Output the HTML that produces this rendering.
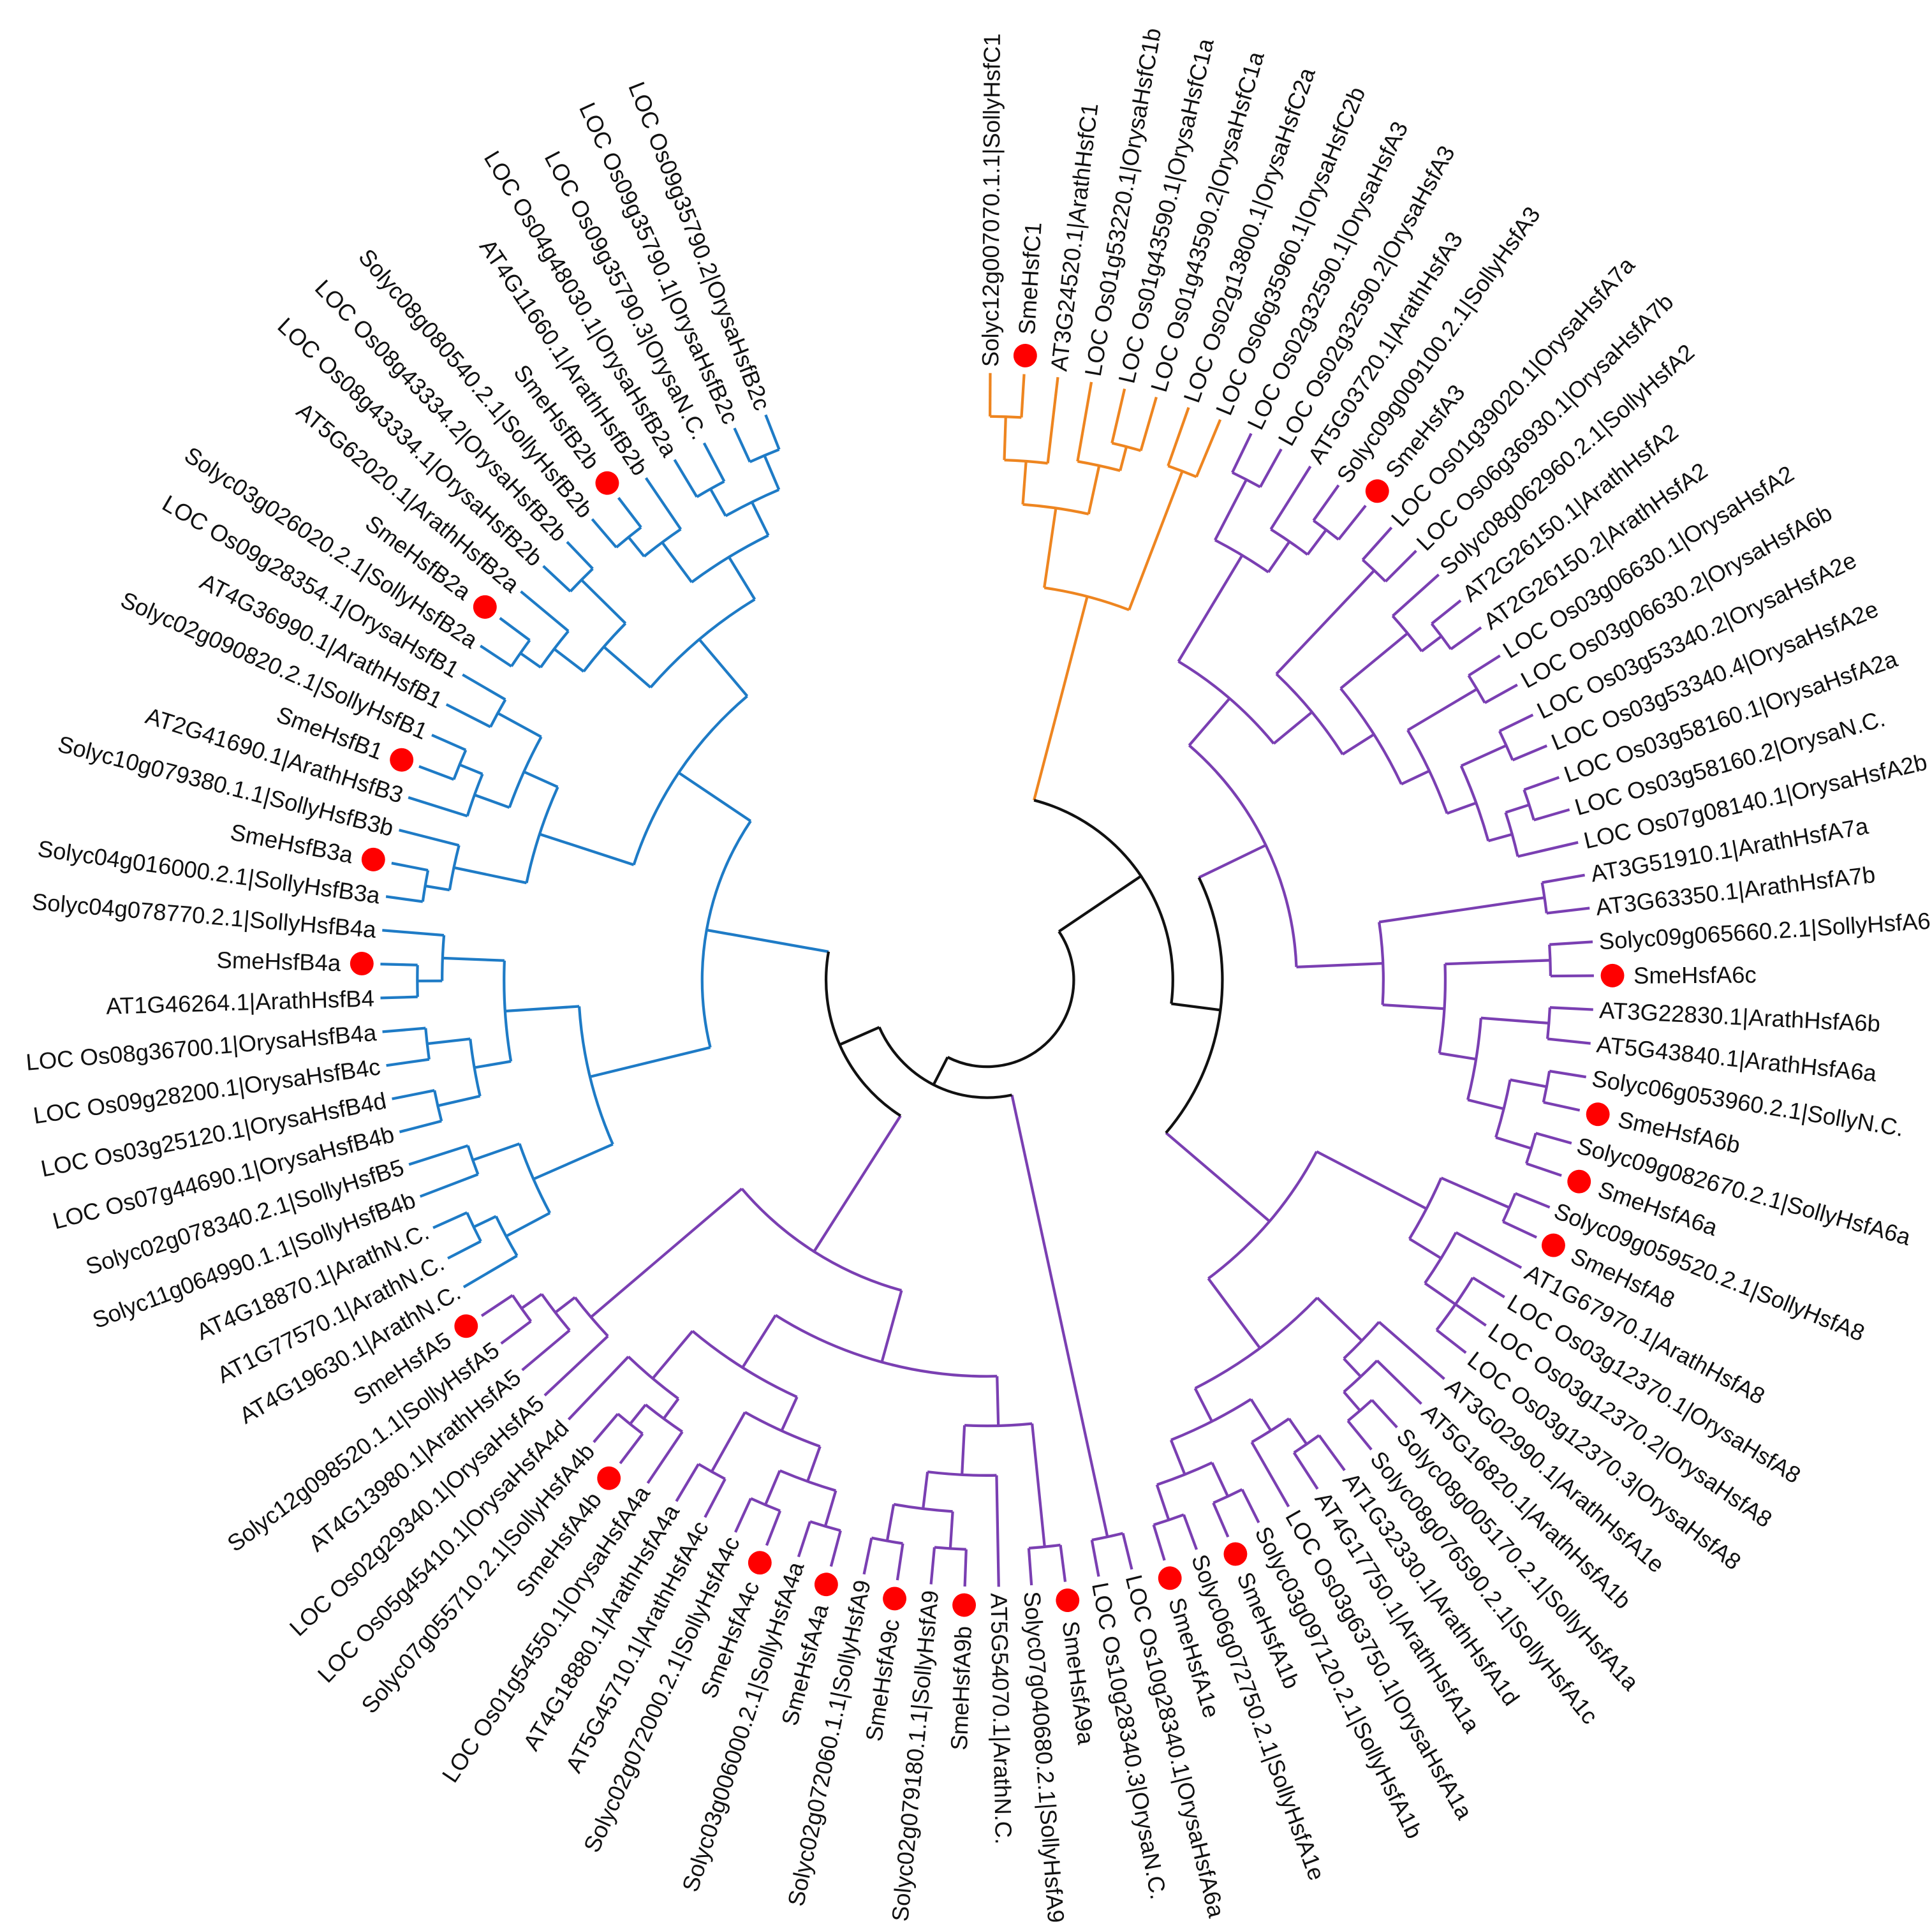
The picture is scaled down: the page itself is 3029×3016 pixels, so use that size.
<!DOCTYPE html>
<html><head><meta charset="utf-8"><style>
html,body{margin:0;padding:0;background:#fff}
svg{display:block}
line,.a{fill:none;stroke-width:2.2}
.o line,.o .a{stroke:#EE8520}
.p line,.p .a{stroke:#7A3FB2}
.b line,.b .a{stroke:#1E7BC6}
.k line,.k .a{stroke:#111}
text{font-family:"Liberation Sans",Arial,sans-serif;font-size:18.8px;fill:#111}
.l{text-anchor:end}
.d{fill:#f00;stroke:none}
</style></head><body>
<svg width="3029" height="3016" viewBox="0 0 1560 1553" xmlns="http://www.w3.org/2000/svg">
<rect width="1560" height="1553" fill="#fff"/>
<g transform="translate(797,791)">
<g class="o">
<line x1="455" x2="490" transform="rotate(-89.7)"/><line x1="455" x2="490" transform="rotate(-86.5)"/><circle class="a" r="455" transform="rotate(-89.7)" stroke-dasharray="25.4 9999"/>
<line x1="420" x2="455" transform="rotate(-88.1)"/><line x1="420" x2="490" transform="rotate(-83.3)"/><circle class="a" r="420" transform="rotate(-88.1)" stroke-dasharray="35.2 9999"/>
<line x1="445" x2="490" transform="rotate(-76.9)"/><line x1="445" x2="490" transform="rotate(-73.8)"/><circle class="a" r="445" transform="rotate(-76.9)" stroke-dasharray="24.1 9999"/>
<line x1="425" x2="490" transform="rotate(-80.1)"/><line x1="425" x2="445" transform="rotate(-75.35)"/><circle class="a" r="425" transform="rotate(-80.1)" stroke-dasharray="35.2 9999"/>
<line x1="385" x2="420" transform="rotate(-85.7)"/><line x1="385" x2="425" transform="rotate(-77.7)"/><circle class="a" r="385" transform="rotate(-85.7)" stroke-dasharray="53.8 9999"/>
<line x1="440" x2="490" transform="rotate(-70.6)"/><line x1="440" x2="490" transform="rotate(-67.4)"/><circle class="a" r="440" transform="rotate(-70.6)" stroke-dasharray="24.6 9999"/>
<line x1="320" x2="385" transform="rotate(-81.7)"/><line x1="320" x2="440" transform="rotate(-69.0)"/><circle class="a" r="320" transform="rotate(-81.7)" stroke-dasharray="70.9 9999"/>
<line x1="150" x2="320" transform="rotate(-75.35)"/>
</g>
<g class="p">
<line x1="455" x2="490" transform="rotate(-64.2)"/><line x1="455" x2="490" transform="rotate(-61.0)"/><circle class="a" r="455" transform="rotate(-64.2)" stroke-dasharray="25.4 9999"/>
<line x1="455" x2="490" transform="rotate(-54.6)"/><line x1="455" x2="490" transform="rotate(-51.4)"/><circle class="a" r="455" transform="rotate(-54.6)" stroke-dasharray="25.4 9999"/>
<line x1="430" x2="490" transform="rotate(-57.8)"/><line x1="430" x2="455" transform="rotate(-53.0)"/><circle class="a" r="430" transform="rotate(-57.8)" stroke-dasharray="36 9999"/>
<line x1="400" x2="455" transform="rotate(-62.6)"/><line x1="400" x2="430" transform="rotate(-55.4)"/><circle class="a" r="400" transform="rotate(-62.6)" stroke-dasharray="50.3 9999"/>
<line x1="455" x2="490" transform="rotate(-48.2)"/><line x1="455" x2="490" transform="rotate(-45.0)"/><circle class="a" r="455" transform="rotate(-48.2)" stroke-dasharray="25.4 9999"/>
<line x1="460" x2="490" transform="rotate(-38.7)"/><line x1="460" x2="490" transform="rotate(-35.5)"/><circle class="a" r="460" transform="rotate(-38.7)" stroke-dasharray="25.7 9999"/>
<line x1="440" x2="490" transform="rotate(-41.9)"/><line x1="440" x2="460" transform="rotate(-37.1)"/><circle class="a" r="440" transform="rotate(-41.9)" stroke-dasharray="36.9 9999"/>
<line x1="460" x2="490" transform="rotate(-32.3)"/><line x1="460" x2="490" transform="rotate(-29.1)"/><circle class="a" r="460" transform="rotate(-32.3)" stroke-dasharray="25.7 9999"/>
<line x1="460" x2="490" transform="rotate(-25.9)"/><line x1="460" x2="490" transform="rotate(-22.7)"/><circle class="a" r="460" transform="rotate(-25.9)" stroke-dasharray="25.7 9999"/>
<line x1="460" x2="490" transform="rotate(-19.5)"/><line x1="460" x2="490" transform="rotate(-16.3)"/><circle class="a" r="460" transform="rotate(-19.5)" stroke-dasharray="25.7 9999"/>
<line x1="440" x2="460" transform="rotate(-17.9)"/><line x1="440" x2="490" transform="rotate(-13.1)"/><circle class="a" r="440" transform="rotate(-17.9)" stroke-dasharray="36.9 9999"/>
<line x1="420" x2="460" transform="rotate(-24.3)"/><line x1="420" x2="440" transform="rotate(-15.5)"/><circle class="a" r="420" transform="rotate(-24.3)" stroke-dasharray="64.5 9999"/>
<line x1="395" x2="460" transform="rotate(-30.7)"/><line x1="395" x2="420" transform="rotate(-19.9)"/><circle class="a" r="395" transform="rotate(-30.7)" stroke-dasharray="74.5 9999"/>
<line x1="370" x2="440" transform="rotate(-39.5)"/><line x1="370" x2="395" transform="rotate(-25.3)"/><circle class="a" r="370" transform="rotate(-39.5)" stroke-dasharray="91.7 9999"/>
<line x1="340" x2="455" transform="rotate(-46.6)"/><line x1="340" x2="370" transform="rotate(-32.4)"/><circle class="a" r="340" transform="rotate(-46.6)" stroke-dasharray="84.3 9999"/>
<line x1="300" x2="400" transform="rotate(-59.0)"/><line x1="300" x2="340" transform="rotate(-39.5)"/><circle class="a" r="300" transform="rotate(-59.0)" stroke-dasharray="102.1 9999"/>
<line x1="455" x2="490" transform="rotate(-9.95)"/><line x1="455" x2="490" transform="rotate(-6.8)"/><circle class="a" r="455" transform="rotate(-9.95)" stroke-dasharray="25 9999"/>
<line x1="455" x2="490" transform="rotate(-3.6)"/><line x1="455" x2="490" transform="rotate(-0.4)"/><circle class="a" r="455" transform="rotate(-3.6)" stroke-dasharray="25.4 9999"/>
<line x1="455" x2="490" transform="rotate(2.8)"/><line x1="455" x2="490" transform="rotate(6.0)"/><circle class="a" r="455" transform="rotate(2.8)" stroke-dasharray="25.4 9999"/>
<line x1="460" x2="490" transform="rotate(9.2)"/><line x1="460" x2="490" transform="rotate(12.4)"/><circle class="a" r="460" transform="rotate(9.2)" stroke-dasharray="25.7 9999"/>
<line x1="460" x2="490" transform="rotate(15.6)"/><line x1="460" x2="490" transform="rotate(18.8)"/><circle class="a" r="460" transform="rotate(15.6)" stroke-dasharray="25.7 9999"/>
<line x1="430" x2="460" transform="rotate(10.8)"/><line x1="430" x2="460" transform="rotate(17.2)"/><circle class="a" r="430" transform="rotate(10.8)" stroke-dasharray="48 9999"/>
<line x1="400" x2="455" transform="rotate(4.4)"/><line x1="400" x2="430" transform="rotate(14.0)"/><circle class="a" r="400" transform="rotate(4.4)" stroke-dasharray="67 9999"/>
<line x1="370" x2="455" transform="rotate(-2.0)"/><line x1="370" x2="400" transform="rotate(9.2)"/><circle class="a" r="370" transform="rotate(-2.0)" stroke-dasharray="72.3 9999"/>
<line x1="320" x2="455" transform="rotate(-8.4)"/><line x1="320" x2="370" transform="rotate(3.6)"/><circle class="a" r="320" transform="rotate(-8.4)" stroke-dasharray="67 9999"/>
<line x1="250" x2="300" transform="rotate(-49.25)"/><line x1="250" x2="320" transform="rotate(-2.4)"/><circle class="a" r="250" transform="rotate(-49.25)" stroke-dasharray="204.4 9999"/>
<line x1="460" x2="490" transform="rotate(22.0)"/><line x1="460" x2="490" transform="rotate(25.1)"/><circle class="a" r="460" transform="rotate(22.0)" stroke-dasharray="24.9 9999"/>
<line x1="460" x2="490" transform="rotate(31.5)"/><line x1="460" x2="490" transform="rotate(34.7)"/><line x1="460" x2="490" transform="rotate(37.9)"/><circle class="a" r="460" transform="rotate(31.5)" stroke-dasharray="51.4 9999"/>
<line x1="430" x2="490" transform="rotate(28.3)"/><line x1="430" x2="460" transform="rotate(34.7)"/><circle class="a" r="430" transform="rotate(28.3)" stroke-dasharray="48 9999"/>
<line x1="400" x2="460" transform="rotate(23.55)"/><line x1="400" x2="430" transform="rotate(31.5)"/><circle class="a" r="400" transform="rotate(23.55)" stroke-dasharray="55.5 9999"/>
<line x1="460" x2="490" transform="rotate(47.5)"/><line x1="460" x2="490" transform="rotate(50.7)"/><circle class="a" r="460" transform="rotate(47.5)" stroke-dasharray="25.7 9999"/>
<line x1="440" x2="490" transform="rotate(44.3)"/><line x1="440" x2="460" transform="rotate(49.1)"/><circle class="a" r="440" transform="rotate(44.3)" stroke-dasharray="36.9 9999"/>
<line x1="420" x2="490" transform="rotate(41.1)"/><line x1="420" x2="440" transform="rotate(46.7)"/><circle class="a" r="420" transform="rotate(41.1)" stroke-dasharray="41 9999"/>
<line x1="455" x2="490" transform="rotate(53.9)"/><line x1="455" x2="490" transform="rotate(57.0)"/><circle class="a" r="455" transform="rotate(53.9)" stroke-dasharray="24.6 9999"/>
<line x1="430" x2="455" transform="rotate(55.45)"/><line x1="430" x2="490" transform="rotate(60.2)"/><circle class="a" r="430" transform="rotate(55.45)" stroke-dasharray="35.6 9999"/>
<line x1="460" x2="490" transform="rotate(63.4)"/><line x1="460" x2="490" transform="rotate(66.6)"/><circle class="a" r="460" transform="rotate(63.4)" stroke-dasharray="25.7 9999"/>
<line x1="460" x2="490" transform="rotate(69.8)"/><line x1="460" x2="490" transform="rotate(73.0)"/><circle class="a" r="460" transform="rotate(69.8)" stroke-dasharray="25.7 9999"/>
<line x1="430" x2="460" transform="rotate(65.0)"/><line x1="430" x2="460" transform="rotate(71.4)"/><circle class="a" r="430" transform="rotate(65.0)" stroke-dasharray="48 9999"/>
<line x1="400" x2="430" transform="rotate(57.8)"/><line x1="400" x2="430" transform="rotate(68.2)"/><circle class="a" r="400" transform="rotate(57.8)" stroke-dasharray="72.6 9999"/>
<line x1="370" x2="420" transform="rotate(43.9)"/><line x1="370" x2="400" transform="rotate(63.0)"/><circle class="a" r="370" transform="rotate(43.9)" stroke-dasharray="123.3 9999"/>
<line x1="300" x2="400" transform="rotate(27.5)"/><line x1="300" x2="370" transform="rotate(53.45)"/><circle class="a" r="300" transform="rotate(27.5)" stroke-dasharray="135.9 9999"/>
<line x1="190" x2="300" transform="rotate(40.5)"/><line x1="190" x2="250" transform="rotate(-25.8)"/>
<line x1="460" x2="490" transform="rotate(76.2)"/><line x1="460" x2="490" transform="rotate(79.4)"/><circle class="a" r="460" transform="rotate(76.2)" stroke-dasharray="25.7 9999"/>
<line x1="95" x2="460" transform="rotate(77.8)"/>
<line x1="460" x2="490" transform="rotate(82.6)"/><line x1="460" x2="490" transform="rotate(85.8)"/><circle class="a" r="460" transform="rotate(82.6)" stroke-dasharray="25.7 9999"/>
<line x1="460" x2="490" transform="rotate(92.1)"/><line x1="460" x2="490" transform="rotate(95.3)"/><circle class="a" r="460" transform="rotate(92.1)" stroke-dasharray="25.7 9999"/>
<line x1="460" x2="490" transform="rotate(98.5)"/><line x1="460" x2="490" transform="rotate(101.7)"/><circle class="a" r="460" transform="rotate(98.5)" stroke-dasharray="25.7 9999"/>
<line x1="430" x2="460" transform="rotate(93.7)"/><line x1="430" x2="460" transform="rotate(100.1)"/><circle class="a" r="430" transform="rotate(93.7)" stroke-dasharray="48 9999"/>
<line x1="400" x2="490" transform="rotate(88.9)"/><line x1="400" x2="430" transform="rotate(96.9)"/><circle class="a" r="400" transform="rotate(88.9)" stroke-dasharray="55.9 9999"/>
<line x1="360" x2="460" transform="rotate(84.2)"/><line x1="360" x2="400" transform="rotate(92.9)"/><circle class="a" r="360" transform="rotate(84.2)" stroke-dasharray="54.7 9999"/>
<line x1="460" x2="490" transform="rotate(104.9)"/><line x1="460" x2="490" transform="rotate(108.1)"/><circle class="a" r="460" transform="rotate(104.9)" stroke-dasharray="25.7 9999"/>
<line x1="460" x2="490" transform="rotate(111.3)"/><line x1="460" x2="490" transform="rotate(114.5)"/><circle class="a" r="460" transform="rotate(111.3)" stroke-dasharray="25.7 9999"/>
<line x1="430" x2="460" transform="rotate(106.5)"/><line x1="430" x2="460" transform="rotate(112.9)"/><circle class="a" r="430" transform="rotate(106.5)" stroke-dasharray="48 9999"/>
<line x1="455" x2="490" transform="rotate(117.7)"/><line x1="455" x2="490" transform="rotate(120.8)"/><circle class="a" r="455" transform="rotate(117.7)" stroke-dasharray="24.6 9999"/>
<line x1="400" x2="430" transform="rotate(109.7)"/><line x1="400" x2="455" transform="rotate(119.25)"/><circle class="a" r="400" transform="rotate(109.7)" stroke-dasharray="66.7 9999"/>
<line x1="460" x2="490" transform="rotate(127.2)"/><line x1="460" x2="490" transform="rotate(130.4)"/><circle class="a" r="460" transform="rotate(127.2)" stroke-dasharray="25.7 9999"/>
<line x1="440" x2="490" transform="rotate(124.0)"/><line x1="440" x2="460" transform="rotate(128.8)"/><circle class="a" r="440" transform="rotate(124.0)" stroke-dasharray="36.9 9999"/>
<line x1="420" x2="440" transform="rotate(126.4)"/><line x1="420" x2="490" transform="rotate(133.6)"/><circle class="a" r="420" transform="rotate(126.4)" stroke-dasharray="52.8 9999"/>
<line x1="370" x2="400" transform="rotate(114.5)"/><line x1="370" x2="420" transform="rotate(130.0)"/><circle class="a" r="370" transform="rotate(114.5)" stroke-dasharray="100.1 9999"/>
<line x1="320" x2="360" transform="rotate(88.55)"/><line x1="320" x2="370" transform="rotate(122.25)"/><circle class="a" r="320" transform="rotate(88.55)" stroke-dasharray="188.2 9999"/>
<line x1="460" x2="490" transform="rotate(143.2)"/><line x1="460" x2="490" transform="rotate(146.4)"/><circle class="a" r="460" transform="rotate(143.2)" stroke-dasharray="25.7 9999"/>
<line x1="440" x2="490" transform="rotate(140.0)"/><line x1="440" x2="460" transform="rotate(144.8)"/><circle class="a" r="440" transform="rotate(140.0)" stroke-dasharray="36.9 9999"/>
<line x1="420" x2="490" transform="rotate(136.8)"/><line x1="420" x2="440" transform="rotate(142.4)"/><circle class="a" r="420" transform="rotate(136.8)" stroke-dasharray="41 9999"/>
<line x1="260" x2="320" transform="rotate(105.4)"/><line x1="260" x2="420" transform="rotate(139.6)"/><circle class="a" r="260" transform="rotate(105.4)" stroke-dasharray="155.2 9999"/>
<line x1="130" x2="260" transform="rotate(122.5)"/>
</g>
<g class="b">
<line x1="460" x2="490" transform="rotate(152.7)"/><line x1="460" x2="490" transform="rotate(155.9)"/><circle class="a" r="460" transform="rotate(152.7)" stroke-dasharray="25.7 9999"/>
<line x1="440" x2="490" transform="rotate(149.6)"/><line x1="440" x2="460" transform="rotate(154.3)"/><circle class="a" r="440" transform="rotate(149.6)" stroke-dasharray="36.1 9999"/>
<line x1="440" x2="490" transform="rotate(159.1)"/><line x1="440" x2="490" transform="rotate(162.3)"/><circle class="a" r="440" transform="rotate(159.1)" stroke-dasharray="24.6 9999"/>
<line x1="400" x2="440" transform="rotate(151.95)"/><line x1="400" x2="440" transform="rotate(160.7)"/><circle class="a" r="400" transform="rotate(151.95)" stroke-dasharray="61.1 9999"/>
<line x1="455" x2="490" transform="rotate(165.5)"/><line x1="455" x2="490" transform="rotate(168.7)"/><circle class="a" r="455" transform="rotate(165.5)" stroke-dasharray="25.4 9999"/>
<line x1="455" x2="490" transform="rotate(171.9)"/><line x1="455" x2="490" transform="rotate(175.1)"/><circle class="a" r="455" transform="rotate(171.9)" stroke-dasharray="25.4 9999"/>
<line x1="420" x2="455" transform="rotate(167.1)"/><line x1="420" x2="455" transform="rotate(173.5)"/><circle class="a" r="420" transform="rotate(167.1)" stroke-dasharray="46.9 9999"/>
<line x1="460" x2="490" transform="rotate(178.3)"/><line x1="460" x2="490" transform="rotate(181.5)"/><circle class="a" r="460" transform="rotate(178.3)" stroke-dasharray="25.7 9999"/>
<line x1="440" x2="460" transform="rotate(179.9)"/><line x1="440" x2="490" transform="rotate(184.7)"/><circle class="a" r="440" transform="rotate(179.9)" stroke-dasharray="36.9 9999"/>
<line x1="390" x2="420" transform="rotate(170.3)"/><line x1="390" x2="440" transform="rotate(182.3)"/><circle class="a" r="390" transform="rotate(170.3)" stroke-dasharray="81.7 9999"/>
<line x1="330" x2="400" transform="rotate(156.3)"/><line x1="330" x2="390" transform="rotate(176.3)"/><circle class="a" r="330" transform="rotate(156.3)" stroke-dasharray="115.2 9999"/>
<line x1="460" x2="490" transform="rotate(187.9)"/><line x1="460" x2="490" transform="rotate(191.1)"/><circle class="a" r="460" transform="rotate(187.9)" stroke-dasharray="25.7 9999"/>
<line x1="440" x2="460" transform="rotate(189.5)"/><line x1="440" x2="490" transform="rotate(194.3)"/><circle class="a" r="440" transform="rotate(189.5)" stroke-dasharray="36.9 9999"/>
<line x1="460" x2="490" transform="rotate(200.6)"/><line x1="460" x2="490" transform="rotate(203.8)"/><circle class="a" r="460" transform="rotate(200.6)" stroke-dasharray="25.7 9999"/>
<line x1="440" x2="490" transform="rotate(197.5)"/><line x1="440" x2="460" transform="rotate(202.2)"/><circle class="a" r="440" transform="rotate(197.5)" stroke-dasharray="36.1 9999"/>
<line x1="450" x2="490" transform="rotate(207.0)"/><line x1="450" x2="490" transform="rotate(210.2)"/><circle class="a" r="450" transform="rotate(207.0)" stroke-dasharray="25.1 9999"/>
<line x1="410" x2="440" transform="rotate(199.85)"/><line x1="410" x2="450" transform="rotate(208.6)"/><circle class="a" r="410" transform="rotate(199.85)" stroke-dasharray="62.6 9999"/>
<line x1="380" x2="440" transform="rotate(191.9)"/><line x1="380" x2="410" transform="rotate(204.2)"/><circle class="a" r="380" transform="rotate(191.9)" stroke-dasharray="81.6 9999"/>
<line x1="460" x2="490" transform="rotate(213.4)"/><line x1="460" x2="490" transform="rotate(216.6)"/><circle class="a" r="460" transform="rotate(213.4)" stroke-dasharray="25.7 9999"/>
<line x1="440" x2="460" transform="rotate(215.0)"/><line x1="440" x2="490" transform="rotate(219.8)"/><circle class="a" r="440" transform="rotate(215.0)" stroke-dasharray="36.9 9999"/>
<line x1="460" x2="490" transform="rotate(223.0)"/><line x1="460" x2="490" transform="rotate(226.2)"/><circle class="a" r="460" transform="rotate(223.0)" stroke-dasharray="25.7 9999"/>
<line x1="410" x2="440" transform="rotate(217.4)"/><line x1="410" x2="460" transform="rotate(224.6)"/><circle class="a" r="410" transform="rotate(217.4)" stroke-dasharray="51.5 9999"/>
<line x1="460" x2="490" transform="rotate(229.4)"/><line x1="460" x2="490" transform="rotate(232.6)"/><circle class="a" r="460" transform="rotate(229.4)" stroke-dasharray="25.7 9999"/>
<line x1="440" x2="460" transform="rotate(231.0)"/><line x1="440" x2="490" transform="rotate(235.8)"/><circle class="a" r="440" transform="rotate(231.0)" stroke-dasharray="36.9 9999"/>
<line x1="455" x2="490" transform="rotate(239.0)"/><line x1="455" x2="490" transform="rotate(242.2)"/><circle class="a" r="455" transform="rotate(239.0)" stroke-dasharray="25.4 9999"/>
<line x1="460" x2="490" transform="rotate(245.4)"/><line x1="460" x2="490" transform="rotate(248.6)"/><circle class="a" r="460" transform="rotate(245.4)" stroke-dasharray="25.7 9999"/>
<line x1="430" x2="455" transform="rotate(240.6)"/><line x1="430" x2="460" transform="rotate(247.0)"/><circle class="a" r="430" transform="rotate(240.6)" stroke-dasharray="48 9999"/>
<line x1="400" x2="440" transform="rotate(233.4)"/><line x1="400" x2="430" transform="rotate(243.8)"/><circle class="a" r="400" transform="rotate(233.4)" stroke-dasharray="72.6 9999"/>
<line x1="360" x2="410" transform="rotate(221.0)"/><line x1="360" x2="400" transform="rotate(238.6)"/><circle class="a" r="360" transform="rotate(221.0)" stroke-dasharray="110.6 9999"/>
<line x1="300" x2="380" transform="rotate(198.05)"/><line x1="300" x2="360" transform="rotate(229.8)"/><circle class="a" r="300" transform="rotate(198.05)" stroke-dasharray="166.2 9999"/>
<line x1="230" x2="330" transform="rotate(166.3)"/><line x1="230" x2="300" transform="rotate(213.9)"/><circle class="a" r="230" transform="rotate(166.3)" stroke-dasharray="191.1 9999"/>
<line x1="130" x2="230" transform="rotate(190.1)"/>
</g>
<g class="k">
<circle class="a" r="130" transform="rotate(122.5)" stroke-dasharray="153.4 9999"/>
<line x1="95" x2="130" transform="rotate(156.3)"/><circle class="a" r="95" transform="rotate(77.8)" stroke-dasharray="130.2 9999"/>
<circle class="a" r="190" transform="rotate(-25.8)" stroke-dasharray="219.9 9999"/>
<line x1="150" x2="190" transform="rotate(7.35)"/><circle class="a" r="150" transform="rotate(-75.35)" stroke-dasharray="216.5 9999"/>
<line x1="70" x2="150" transform="rotate(-34)"/><line x1="70" x2="95" transform="rotate(117.05)"/><circle class="a" r="70" transform="rotate(-34)" stroke-dasharray="184.5 9999"/>
</g>
<g>
<circle class="d" cx="505" r="9.5" transform="rotate(-86.5)"/><circle class="d" cx="505" r="9.5" transform="rotate(-51.4)"/><circle class="d" cx="505" r="9.5" transform="rotate(-0.4)"/><circle class="d" cx="505" r="9.5" transform="rotate(12.4)"/><circle class="d" cx="505" r="9.5" transform="rotate(18.8)"/><circle class="d" cx="505" r="9.5" transform="rotate(25.1)"/><circle class="d" cx="505" r="9.5" transform="rotate(66.6)"/><circle class="d" cx="505" r="9.5" transform="rotate(73.0)"/><circle class="d" cx="505" r="9.5" transform="rotate(82.6)"/><circle class="d" cx="505" r="9.5" transform="rotate(92.1)"/><circle class="d" cx="505" r="9.5" transform="rotate(98.5)"/><circle class="d" cx="505" r="9.5" transform="rotate(104.9)"/><circle class="d" cx="505" r="9.5" transform="rotate(111.3)"/><circle class="d" cx="505" r="9.5" transform="rotate(127.2)"/><circle class="d" cx="505" r="9.5" transform="rotate(146.4)"/><circle class="d" cx="505" r="9.5" transform="rotate(181.5)"/><circle class="d" cx="505" r="9.5" transform="rotate(191.1)"/><circle class="d" cx="505" r="9.5" transform="rotate(200.6)"/><circle class="d" cx="505" r="9.5" transform="rotate(216.6)"/><circle class="d" cx="505" r="9.5" transform="rotate(232.6)"/>
</g>
<g>
<text x="495" dy="6.5" transform="rotate(-89.7)">Solyc12g007070.1.1|SollyHsfC1</text>
<text x="522" dy="6.5" transform="rotate(-86.5)">SmeHsfC1</text>
<text x="495" dy="6.5" transform="rotate(-83.3)">AT3G24520.1|ArathHsfC1</text>
<text x="495" dy="6.5" transform="rotate(-80.1)">LOC Os01g53220.1|OrysaHsfC1b</text>
<text x="495" dy="6.5" transform="rotate(-76.9)">LOC Os01g43590.1|OrysaHsfC1a</text>
<text x="495" dy="6.5" transform="rotate(-73.8)">LOC Os01g43590.2|OrysaHsfC1a</text>
<text x="495" dy="6.5" transform="rotate(-70.6)">LOC Os02g13800.1|OrysaHsfC2a</text>
<text x="495" dy="6.5" transform="rotate(-67.4)">LOC Os06g35960.1|OrysaHsfC2b</text>
<text x="495" dy="6.5" transform="rotate(-64.2)">LOC Os02g32590.1|OrysaHsfA3</text>
<text x="495" dy="6.5" transform="rotate(-61.0)">LOC Os02g32590.2|OrysaHsfA3</text>
<text x="495" dy="6.5" transform="rotate(-57.8)">AT5G03720.1|ArathHsfA3</text>
<text x="495" dy="6.5" transform="rotate(-54.6)">Solyc09g009100.2.1|SollyHsfA3</text>
<text x="522" dy="6.5" transform="rotate(-51.4)">SmeHsfA3</text>
<text x="495" dy="6.5" transform="rotate(-48.2)">LOC Os01g39020.1|OrysaHsfA7a</text>
<text x="495" dy="6.5" transform="rotate(-45.0)">LOC Os06g36930.1|OrysaHsfA7b</text>
<text x="495" dy="6.5" transform="rotate(-41.9)">Solyc08g062960.2.1|SollyHsfA2</text>
<text x="495" dy="6.5" transform="rotate(-38.7)">AT2G26150.1|ArathHsfA2</text>
<text x="495" dy="6.5" transform="rotate(-35.5)">AT2G26150.2|ArathHsfA2</text>
<text x="495" dy="6.5" transform="rotate(-32.3)">LOC Os03g06630.1|OrysaHsfA2</text>
<text x="495" dy="6.5" transform="rotate(-29.1)">LOC Os03g06630.2|OrysaHsfA6b</text>
<text x="495" dy="6.5" transform="rotate(-25.9)">LOC Os03g53340.2|OrysaHsfA2e</text>
<text x="495" dy="6.5" transform="rotate(-22.7)">LOC Os03g53340.4|OrysaHsfA2e</text>
<text x="495" dy="6.5" transform="rotate(-19.5)">LOC Os03g58160.1|OrysaHsfA2a</text>
<text x="495" dy="6.5" transform="rotate(-16.3)">LOC Os03g58160.2|OrysaN.C.</text>
<text x="495" dy="6.5" transform="rotate(-13.1)">LOC Os07g08140.1|OrysaHsfA2b</text>
<text x="495" dy="6.5" transform="rotate(-9.95)">AT3G51910.1|ArathHsfA7a</text>
<text x="495" dy="6.5" transform="rotate(-6.8)">AT3G63350.1|ArathHsfA7b</text>
<text x="495" dy="6.5" transform="rotate(-3.6)">Solyc09g065660.2.1|SollyHsfA6</text>
<text x="522" dy="6.5" transform="rotate(-0.4)">SmeHsfA6c</text>
<text x="495" dy="6.5" transform="rotate(2.8)">AT3G22830.1|ArathHsfA6b</text>
<text x="495" dy="6.5" transform="rotate(6.0)">AT5G43840.1|ArathHsfA6a</text>
<text x="495" dy="6.5" transform="rotate(9.2)">Solyc06g053960.2.1|SollyN.C.</text>
<text x="522" dy="6.5" transform="rotate(12.4)">SmeHsfA6b</text>
<text x="495" dy="6.5" transform="rotate(15.6)">Solyc09g082670.2.1|SollyHsfA6a</text>
<text x="522" dy="6.5" transform="rotate(18.8)">SmeHsfA6a</text>
<text x="495" dy="6.5" transform="rotate(22.0)">Solyc09g059520.2.1|SollyHsfA8</text>
<text x="522" dy="6.5" transform="rotate(25.1)">SmeHsfA8</text>
<text x="495" dy="6.5" transform="rotate(28.3)">AT1G67970.1|ArathHsfA8</text>
<text x="495" dy="6.5" transform="rotate(31.5)">LOC Os03g12370.1|OrysaHsfA8</text>
<text x="495" dy="6.5" transform="rotate(34.7)">LOC Os03g12370.2|OrysaHsfA8</text>
<text x="495" dy="6.5" transform="rotate(37.9)">LOC Os03g12370.3|OrysaHsfA8</text>
<text x="495" dy="6.5" transform="rotate(41.1)">AT3G02990.1|ArathHsfA1e</text>
<text x="495" dy="6.5" transform="rotate(44.3)">AT5G16820.1|ArathHsfA1b</text>
<text x="495" dy="6.5" transform="rotate(47.5)">Solyc08g005170.2.1|SollyHsfA1a</text>
<text x="495" dy="6.5" transform="rotate(50.7)">Solyc08g076590.2.1|SollyHsfA1c</text>
<text x="495" dy="6.5" transform="rotate(53.9)">AT1G32330.1|ArathHsfA1d</text>
<text x="495" dy="6.5" transform="rotate(57.0)">AT4G17750.1|ArathHsfA1a</text>
<text x="495" dy="6.5" transform="rotate(60.2)">LOC Os03g63750.1|OrysaHsfA1a</text>
<text x="495" dy="6.5" transform="rotate(63.4)">Solyc03g097120.2.1|SollyHsfA1b</text>
<text x="522" dy="6.5" transform="rotate(66.6)">SmeHsfA1b</text>
<text x="495" dy="6.5" transform="rotate(69.8)">Solyc06g072750.2.1|SollyHsfA1e</text>
<text x="522" dy="6.5" transform="rotate(73.0)">SmeHsfA1e</text>
<text x="495" dy="6.5" transform="rotate(76.2)">LOC Os10g28340.1|OrysaHsfA6a</text>
<text x="495" dy="6.5" transform="rotate(79.4)">LOC Os10g28340.3|OrysaN.C.</text>
<text x="522" dy="6.5" transform="rotate(82.6)">SmeHsfA9a</text>
<text x="495" dy="6.5" transform="rotate(85.8)">Solyc07g040680.2.1|SollyHsfA9</text>
<text x="495" dy="6.5" transform="rotate(88.9)">AT5G54070.1|ArathN.C.</text>
<text class="l" x="-522" dy="6.5" transform="rotate(-87.9)">SmeHsfA9b</text>
<text class="l" x="-495" dy="6.5" transform="rotate(-84.7)">Solyc02g079180.1.1|SollyHsfA9</text>
<text class="l" x="-522" dy="6.5" transform="rotate(-81.5)">SmeHsfA9c</text>
<text class="l" x="-495" dy="6.5" transform="rotate(-78.3)">Solyc02g072060.1.1|SollyHsfA9</text>
<text class="l" x="-522" dy="6.5" transform="rotate(-75.1)">SmeHsfA4a</text>
<text class="l" x="-495" dy="6.5" transform="rotate(-71.9)">Solyc03g006000.2.1|SollyHsfA4a</text>
<text class="l" x="-522" dy="6.5" transform="rotate(-68.7)">SmeHsfA4c</text>
<text class="l" x="-495" dy="6.5" transform="rotate(-65.5)">Solyc02g072000.2.1|SollyHsfA4c</text>
<text class="l" x="-495" dy="6.5" transform="rotate(-62.3)">AT5G45710.1|ArathHsfA4c</text>
<text class="l" x="-495" dy="6.5" transform="rotate(-59.2)">AT4G18880.1|ArathHsfA4a</text>
<text class="l" x="-495" dy="6.5" transform="rotate(-56.0)">LOC Os01g54550.1|OrysaHsfA4a</text>
<text class="l" x="-522" dy="6.5" transform="rotate(-52.8)">SmeHsfA4b</text>
<text class="l" x="-495" dy="6.5" transform="rotate(-49.6)">Solyc07g055710.2.1|SollyHsfA4b</text>
<text class="l" x="-495" dy="6.5" transform="rotate(-46.4)">LOC Os05g45410.1|OrysaHsfA4d</text>
<text class="l" x="-495" dy="6.5" transform="rotate(-43.2)">LOC Os02g29340.1|OrysaHsfA5</text>
<text class="l" x="-495" dy="6.5" transform="rotate(-40.0)">AT4G13980.1|ArathHsfA5</text>
<text class="l" x="-495" dy="6.5" transform="rotate(-36.8)">Solyc12g098520.1.1|SollyHsfA5</text>
<text class="l" x="-522" dy="6.5" transform="rotate(-33.6)">SmeHsfA5</text>
<text class="l" x="-495" dy="6.5" transform="rotate(-30.4)">AT4G19630.1|ArathN.C.</text>
<text class="l" x="-495" dy="6.5" transform="rotate(-27.3)">AT1G77570.1|ArathN.C.</text>
<text class="l" x="-495" dy="6.5" transform="rotate(-24.1)">AT4G18870.1|ArathN.C.</text>
<text class="l" x="-495" dy="6.5" transform="rotate(-20.9)">Solyc11g064990.1.1|SollyHsfB4b</text>
<text class="l" x="-495" dy="6.5" transform="rotate(-17.7)">Solyc02g078340.2.1|SollyHsfB5</text>
<text class="l" x="-495" dy="6.5" transform="rotate(-14.5)">LOC Os07g44690.1|OrysaHsfB4b</text>
<text class="l" x="-495" dy="6.5" transform="rotate(-11.3)">LOC Os03g25120.1|OrysaHsfB4d</text>
<text class="l" x="-495" dy="6.5" transform="rotate(-8.1)">LOC Os09g28200.1|OrysaHsfB4c</text>
<text class="l" x="-495" dy="6.5" transform="rotate(-4.9)">LOC Os08g36700.1|OrysaHsfB4a</text>
<text class="l" x="-495" dy="6.5" transform="rotate(-1.7)">AT1G46264.1|ArathHsfB4</text>
<text class="l" x="-522" dy="6.5" transform="rotate(1.5)">SmeHsfB4a</text>
<text class="l" x="-495" dy="6.5" transform="rotate(4.7)">Solyc04g078770.2.1|SollyHsfB4a</text>
<text class="l" x="-495" dy="6.5" transform="rotate(7.9)">Solyc04g016000.2.1|SollyHsfB3a</text>
<text class="l" x="-522" dy="6.5" transform="rotate(11.1)">SmeHsfB3a</text>
<text class="l" x="-495" dy="6.5" transform="rotate(14.3)">Solyc10g079380.1.1|SollyHsfB3b</text>
<text class="l" x="-495" dy="6.5" transform="rotate(17.5)">AT2G41690.1|ArathHsfB3</text>
<text class="l" x="-522" dy="6.5" transform="rotate(20.6)">SmeHsfB1</text>
<text class="l" x="-495" dy="6.5" transform="rotate(23.8)">Solyc02g090820.2.1|SollyHsfB1</text>
<text class="l" x="-495" dy="6.5" transform="rotate(27.0)">AT4G36990.1|ArathHsfB1</text>
<text class="l" x="-495" dy="6.5" transform="rotate(30.2)">LOC Os09g28354.1|OrysaHsfB1</text>
<text class="l" x="-495" dy="6.5" transform="rotate(33.4)">Solyc03g026020.2.1|SollyHsfB2a</text>
<text class="l" x="-522" dy="6.5" transform="rotate(36.6)">SmeHsfB2a</text>
<text class="l" x="-495" dy="6.5" transform="rotate(39.8)">AT5G62020.1|ArathHsfB2a</text>
<text class="l" x="-495" dy="6.5" transform="rotate(43.0)">LOC Os08g43334.1|OrysaHsfB2b</text>
<text class="l" x="-495" dy="6.5" transform="rotate(46.2)">LOC Os08g43334.2|OrysaHsfB2b</text>
<text class="l" x="-495" dy="6.5" transform="rotate(49.4)">Solyc08g080540.2.1|SollyHsfB2b</text>
<text class="l" x="-522" dy="6.5" transform="rotate(52.6)">SmeHsfB2b</text>
<text class="l" x="-495" dy="6.5" transform="rotate(55.8)">AT4G11660.1|ArathHsfB2b</text>
<text class="l" x="-495" dy="6.5" transform="rotate(59.0)">LOC Os04g48030.1|OrysaHsfB2a</text>
<text class="l" x="-495" dy="6.5" transform="rotate(62.2)">LOC Os09g35790.3|OrysaN.C.</text>
<text class="l" x="-495" dy="6.5" transform="rotate(65.4)">LOC Os09g35790.1|OrysaHsfB2c</text>
<text class="l" x="-495" dy="6.5" transform="rotate(68.6)">LOC Os09g35790.2|OrysaHsfB2c</text>
</g>
</g>
</svg>
</body></html>
